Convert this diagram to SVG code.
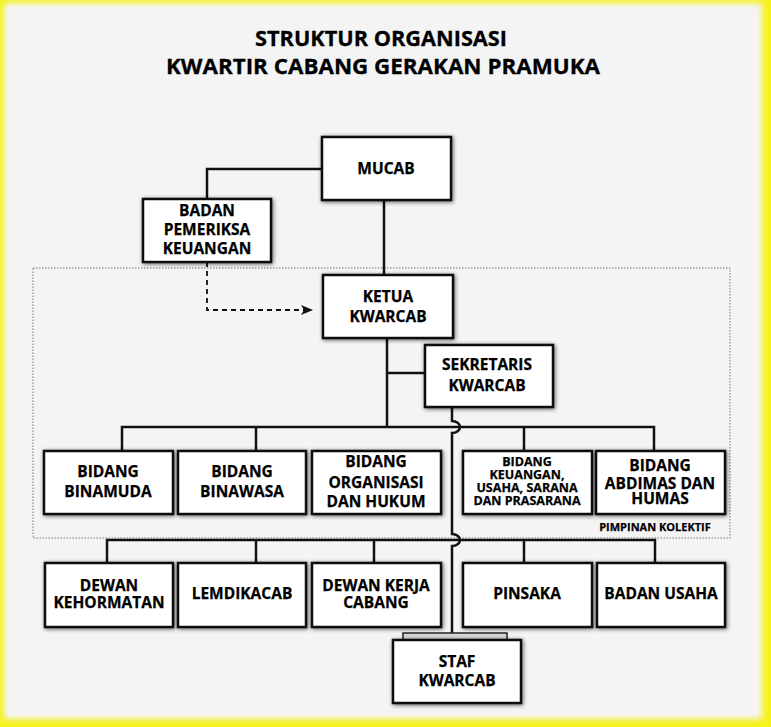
<svg xmlns="http://www.w3.org/2000/svg" width="771" height="727" viewBox="0 0 771 727">
<defs>
<filter id="sh" x="-10%" y="-15%" width="120%" height="135%">
<feGaussianBlur in="SourceAlpha" stdDeviation="2"/>
<feOffset dx="1" dy="1" result="b"/>
<feComponentTransfer><feFuncA type="linear" slope="0.6"/></feComponentTransfer>
<feMerge><feMergeNode/><feMergeNode in="SourceGraphic"/></feMerge>
</filter>
<filter id="glow" x="-5%" y="-5%" width="110%" height="110%">
<feGaussianBlur stdDeviation="3"/>
</filter>
<marker id="arr" markerWidth="12" markerHeight="10" refX="11" refY="5" orient="auto" markerUnits="userSpaceOnUse">
<path d="M0,0 L12,5 L0,10 L3,5 Z" fill="#111"/>
</marker>
<style>
.box{fill:#fff;stroke:#111;stroke-width:2.5;filter:url(#sh)}
.t{font-family:"Open Sans","Liberation Sans",sans-serif;font-weight:700;font-size:15.5px;text-anchor:middle;fill:#000;stroke:#000;stroke-width:0.25}
.s{font-size:12.5px}
.ln{fill:none;stroke:#111;stroke-width:2.5}
</style>
</defs>
<rect x="0" y="0" width="771" height="727" fill="#f6f21a"/>
<rect x="4" y="3" width="758" height="716" fill="#f4f4f4" filter="url(#glow)"/>
<rect x="8" y="7" width="750" height="708" fill="#f4f4f4"/>

<g id="title" font-family="'Open Sans','Liberation Sans',sans-serif" font-weight="700" font-size="22" text-anchor="middle" fill="#000" stroke="#000" stroke-width="0.3">
<text x="381" y="46" textLength="252" lengthAdjust="spacingAndGlyphs">STRUKTUR ORGANISASI</text>
<text x="383" y="74" textLength="434" lengthAdjust="spacingAndGlyphs">KWARTIR CABANG GERAKAN PRAMUKA</text>
</g>

<g id="pimpinan-kolektif">
<rect x="33" y="268" width="697" height="270" fill="none" stroke="#777" stroke-width="1" stroke-dasharray="1.5 1.5"/>
<text class="t" x="655" y="531" style="font-size:11px">PIMPINAN KOLEKTIF</text>
</g>

<g id="connectors">
<path class="ln" d="M322,169 H207 V199"/>
<path class="ln" d="M384,200 V275"/>
<path class="ln" d="M387,338 V427"/>
<path class="ln" d="M387,373 H425"/>
<path class="ln" d="M122,451 V427 H654 V451"/>
<path class="ln" d="M256,427 V451 M524,427 V451"/>
<path class="ln" d="M107,563 V540 H655 V563"/>
<path class="ln" d="M256,540 V563 M374,540 V563 M524,540 V563"/>
<path class="ln" d="M452,407 V421 A8,6 0 0 1 452,433 V534 A8,6 0 0 1 452,546 V633"/>
<path d="M207,262 V310 H312" fill="none" stroke="#111" stroke-width="1.8" stroke-dasharray="5 4" marker-end="url(#arr)"/>
</g>

<g id="mucab"><rect class="box" x="322" y="137" width="129" height="63"/><text class="t" x="386" y="174">MUCAB</text></g>
<g id="bpk"><rect class="box" x="143" y="199" width="128" height="63"/><text class="t" x="207" y="216">BADAN</text><text class="t" x="207" y="235">PEMERIKSA</text><text class="t" x="207" y="254">KEUANGAN</text></g>
<g id="ketua"><rect class="box" x="323" y="275" width="130" height="63"/><text class="t" x="388" y="302">KETUA</text><text class="t" x="388" y="322">KWARCAB</text></g>
<g id="sekretaris"><rect class="box" x="425" y="345" width="128" height="62"/><text class="t" x="487" y="370">SEKRETARIS</text><text class="t" x="487" y="391">KWARCAB</text></g>

<g id="binamuda"><rect class="box" x="44" y="451" width="129" height="63"/><text class="t" x="108" y="477">BIDANG</text><text class="t" x="108" y="497">BINAMUDA</text></g>
<g id="binawasa"><rect class="box" x="178" y="451" width="128" height="63"/><text class="t" x="242" y="477">BIDANG</text><text class="t" x="242" y="497">BINAWASA</text></g>
<g id="organisasi"><rect class="box" x="312" y="451" width="129" height="63"/><text class="t" x="376" y="467">BIDANG</text><text class="t" x="376" y="488">ORGANISASI</text><text class="t" x="376" y="507">DAN HUKUM</text></g>
<g id="keuangan"><rect class="box" x="463" y="451" width="129" height="63"/><text class="t s" x="527" y="466">BIDANG</text><text class="t s" x="527" y="478.5">KEUANGAN,</text><text class="t s" x="527" y="491.5">USAHA, SARANA</text><text class="t s" x="527" y="504.5">DAN PRASARANA</text></g>
<g id="abdimas"><rect class="box" x="596" y="451" width="129" height="63"/><text class="t" x="660" y="470.5">BIDANG</text><text class="t" x="660" y="488.5">ABDIMAS DAN</text><text class="t" x="660" y="503.5">HUMAS</text></g>

<g id="kehormatan"><rect class="box" x="45" y="563" width="128" height="64"/><text class="t" x="109" y="590.5">DEWAN</text><text class="t" x="109" y="608">KEHORMATAN</text></g>
<g id="lemdikacab"><rect class="box" x="178" y="563" width="128" height="64"/><text class="t" x="242" y="598.5">LEMDIKACAB</text></g>
<g id="dewan-kerja"><rect class="box" x="312" y="563" width="129" height="64"/><text class="t" x="376" y="590.5">DEWAN KERJA</text><text class="t" x="376" y="608">CABANG</text></g>
<g id="pinsaka"><rect class="box" x="463" y="563" width="129" height="64"/><text class="t" x="527" y="598.5">PINSAKA</text></g>
<g id="badan-usaha"><rect class="box" x="597" y="563" width="128" height="64"/><text class="t" x="661" y="598.5">BADAN USAHA</text></g>

<g id="staf">
<rect x="403" y="633" width="104" height="20" fill="#d8d8d8" stroke="#222" stroke-width="1.5"/>
<rect class="box" x="393" y="640" width="128" height="63"/><text class="t" x="457" y="667">STAF</text><text class="t" x="457" y="686">KWARCAB</text>
</g>
</svg>
